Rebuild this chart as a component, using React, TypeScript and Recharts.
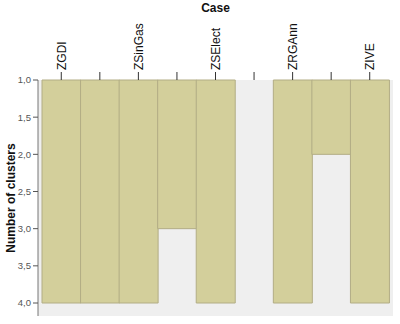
import React from 'react';
import { BarChart, Bar, XAxis, YAxis, CartesianGrid } from 'recharts';

// icicle plot: case columns alternate with the join columns between them
const columns = ['ZGDI', '', 'ZSinGas', '', 'ZSElect', '', 'ZRGAnn', '', 'ZIVE'];
const clusterDepth = [4, 4, 4, 3, 4, null, 4, 2, 4];
const yTicks = [1, 1.5, 2, 2.5, 3, 3.5, 4];

const data = columns.map((name, i) => ({ name, clusters: clusterDepth[i] }));

const CaseTick = (props: any) => {
  const { x, y, payload } = props;
  const label = columns[payload.index];
  // recharts hands us y already moved up by tickSize + tickMargin (6 + 2)
  const base = y + 8;
  return (
    <g>
      <line x1={x} y1={base} x2={x} y2={base - 8} stroke="#333" strokeWidth={1} />
      {label ? (
        <text
          x={x}
          y={base - 10}
          transform={`rotate(-90 ${x} ${base - 10})`}
          textAnchor="start"
          dy="0.36em"
          fontSize={12}
          fill="#111"
          fontFamily="Arial, 'Liberation Sans', sans-serif"
        >
          {label}
        </text>
      ) : null}
    </g>
  );
};

const App: React.FC = () => {
  return (
    <div style={{ position: 'absolute', left: 0, top: 0, background: '#fff' }}>
      <BarChart
        width={400}
        height={324}
        data={data}
        margin={{ top: 0, right: 7, left: 0, bottom: 8 }}
        barCategoryGap={0}
        barGap={0}
        style={{ fontFamily: "Arial, 'Liberation Sans', sans-serif" }}
      >
        <CartesianGrid fill="#efefef" horizontal={false} vertical={false} />
        <XAxis
          dataKey="name"
          orientation="top"
          height={80}
          interval={0}
          axisLine={false}
          tickLine={false}
          allowDuplicatedCategory
          padding={{ left: 4, right: 4 }}
          tick={<CaseTick />}
          label={{ value: 'Case', position: 'insideTop', offset: 3, fontSize: 12, fontWeight: 'bold', fill: '#111' }}
        />
        <XAxis xAxisId="frame" dataKey="name" orientation="bottom" height={0} tick={false} tickLine={false} axisLine={{ stroke: '#777' }} />
        <YAxis
          reversed
          type="number"
          domain={[1, 4]}
          ticks={yTicks}
          width={38}
          padding={{ top: 0, bottom: 13 }}
          tickSize={5}
          tickLine={{ stroke: '#555' }}
          axisLine={{ stroke: '#777' }}
          tick={{ fontSize: 9.5, fill: '#555' }}
          tickFormatter={(v: number) => v.toFixed(1).replace('.', ',')}
          label={{ value: 'Number of clusters', angle: -90, position: 'insideLeft', offset: 0, dx: 11, fontSize: 12, fontWeight: 'bold', fill: '#111', style: { textAnchor: 'middle' } }}
        />
        <YAxis yAxisId="frame" orientation="right" width={0} tick={false} tickLine={false} axisLine={{ stroke: '#c8c8c8' }} />
        <Bar dataKey="clusters" fill="#d3cf9b" stroke="#b2ad85" strokeWidth={1} isAnimationActive={false} />
      </BarChart>
    </div>
  );
};

export default App;
